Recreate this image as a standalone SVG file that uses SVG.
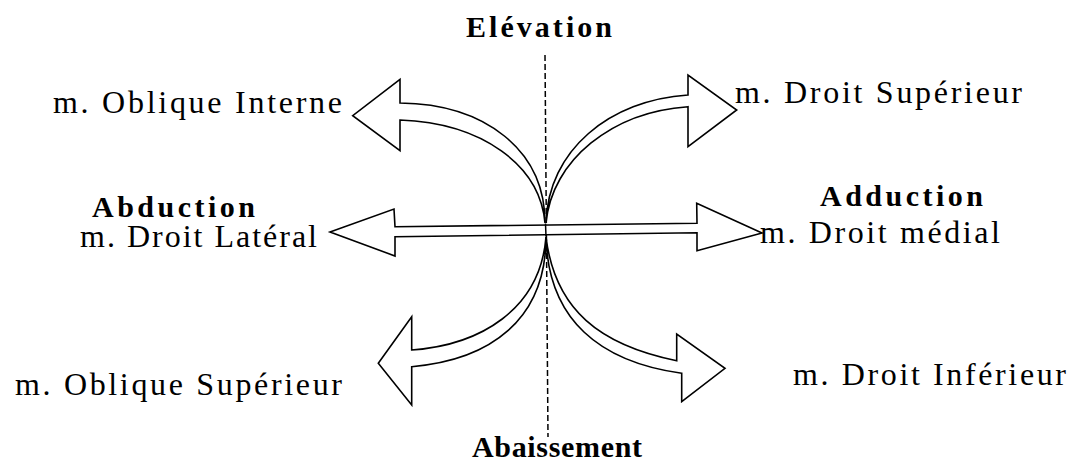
<svg xmlns="http://www.w3.org/2000/svg" width="1080" height="463" viewBox="0 0 1080 463">
<style>
.lbl{font-family:"Liberation Serif","Times New Roman",serif;font-size:32px;fill:#000}
.bold{font-weight:bold;font-size:30px}
.arr{fill:#fff;stroke:#000;stroke-width:1.6;stroke-linejoin:miter}
.axis{stroke:#000;stroke-width:1.5;stroke-dasharray:6 3;fill:none}
</style>
<rect width="1080" height="463" fill="#fff"/>
<g id="axis">
<line class="axis" x1="545" y1="55" x2="548" y2="437"/>
</g>
<g id="connectors">
<path id="arrow-oblique-interne" class="arr" d="M545,223 C545,150 485,104 400,103 L400,79.3 L352.7,115.7 L400,150.7 L400,120 C482,123 540,165 545,223 Z"/>
<path id="arrow-droit-superieur" class="arr" d="M546,223 C548,150 610,100 688,95 L688,75 L736.7,110 L688,146.7 L688,106.7 C612,112 552,160 546,223 Z"/>
<path id="arrow-oblique-superieur" class="arr" d="M546,237 C540,310 480,345 411.7,350 L411.7,316.7 L378.3,363.3 L411.7,405 L411.7,366.7 C490,360 546,320 546,237 Z"/>
<path id="arrow-droit-inferieur" class="arr" d="M546,237 C555,310 600,345 676.7,360.7 L676.7,334 L725,368.3 L681.7,401.7 L681.7,373.3 C600,362 548,320 546,237 Z"/>
<path id="arrow-horizontal" class="arr" d="M330,232 L394,209 L395,226.7 L697,223.3 L696.7,203.3 L762,233 L697,250.7 L697,232.7 L395,236.7 L395,256 Z"/>
<line x1="545.5" y1="223.5" x2="546" y2="236.5" stroke="#000" stroke-width="1.5"/>
</g>
<g id="node-elevation"><text class="lbl bold" x="466" y="37" textLength="146" lengthAdjust="spacing">Elévation</text></g>
<g id="node-abaissement"><text class="lbl bold" x="472" y="457" textLength="170" lengthAdjust="spacing">Abaissement</text></g>
<g id="node-oblique-interne"><text class="lbl" x="53" y="113" textLength="289" lengthAdjust="spacing">m. Oblique Interne</text></g>
<g id="node-droit-superieur"><text class="lbl" x="735" y="103" textLength="287" lengthAdjust="spacing">m. Droit Supérieur</text></g>
<g id="node-abduction">
<text class="lbl bold" x="92" y="217" textLength="163" lengthAdjust="spacing">Abduction</text>
<text class="lbl" x="80" y="247" textLength="237" lengthAdjust="spacing">m. Droit Latéral</text>
</g>
<g id="node-adduction">
<text class="lbl bold" x="820" y="206" textLength="163" lengthAdjust="spacing">Adduction</text>
<text class="lbl" x="760" y="243" textLength="240" lengthAdjust="spacing">m. Droit médial</text>
</g>
<g id="node-oblique-superieur"><text class="lbl" x="15" y="395" textLength="327" lengthAdjust="spacing">m. Oblique Supérieur</text></g>
<g id="node-droit-inferieur"><text class="lbl" x="793" y="385" textLength="273" lengthAdjust="spacing">m. Droit Inférieur</text></g>
</svg>
